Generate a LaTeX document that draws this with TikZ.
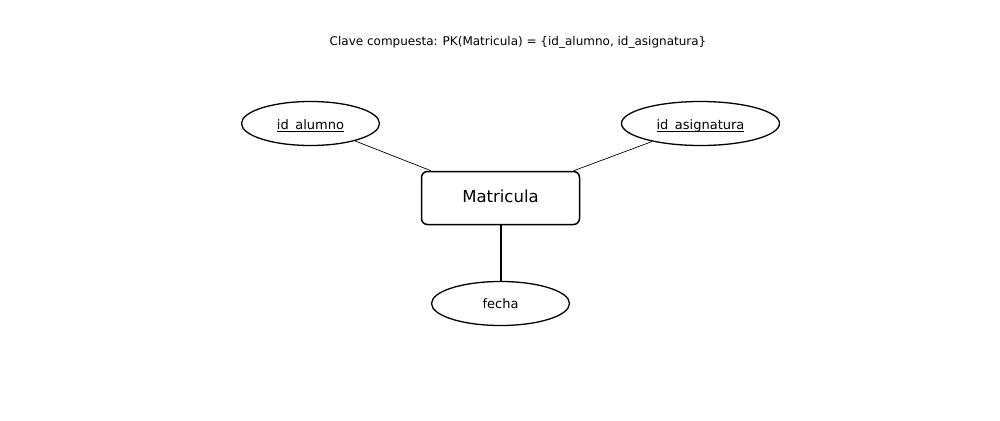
\documentclass[tikz,border=0pt]{standalone}
\usepackage{fontspec}
\setmainfont{DejaVu Sans}
\usetikzlibrary{shapes.geometric}
\newcommand\keyul[1]{\setbox0\hbox{#1}\rlap{\rule[-2.2pt]{\wd0}{1pt}}\box0}
\begin{document}
\begin{tikzpicture}[x=1pt,y=-1pt,
  attr/.style={draw, ellipse, line width=1.3pt, inner sep=0pt, font=\fontsize{13}{15}\selectfont},
  keyattr/.style={attr, text height=12pt, text depth=0pt},
  entity/.style={draw, rectangle, rounded corners=6pt, line width=1.5pt, inner sep=0pt, minimum width=158pt, minimum height=53pt, text height=11.7pt, text depth=2pt, font=\fontsize{16.5}{19}\selectfont},
  thinlink/.style={line width=0.7pt},
  thicklink/.style={line width=2pt}]
\useasboundingbox (0,0) rectangle (1000,420);
\node (title) at (518,42) {\fontsize{12}{14}\selectfont Clave compuesta: PK(Matricula) = \{id\_alumno, id\_asignatura\}};
\node[entity] (mat) at (500.5,198) {Matricula};
\node[keyattr, minimum width=138pt, minimum height=44pt] (alumno) at (310.5,123.5) {\keyul{id\_alumno}};
\node[keyattr, minimum width=158pt, minimum height=44pt] (asig) at (700.5,123.5) {\keyul{id\_asignatura}};
\node[attr, minimum width=138pt, minimum height=44pt] (fecha) at (500.5,303.5) {fecha};
\draw[thinlink] (alumno) -- (mat);
\draw[thinlink] (asig) -- (mat);
\draw[thicklink] (mat) -- (fecha);
\end{tikzpicture}
\end{document}
